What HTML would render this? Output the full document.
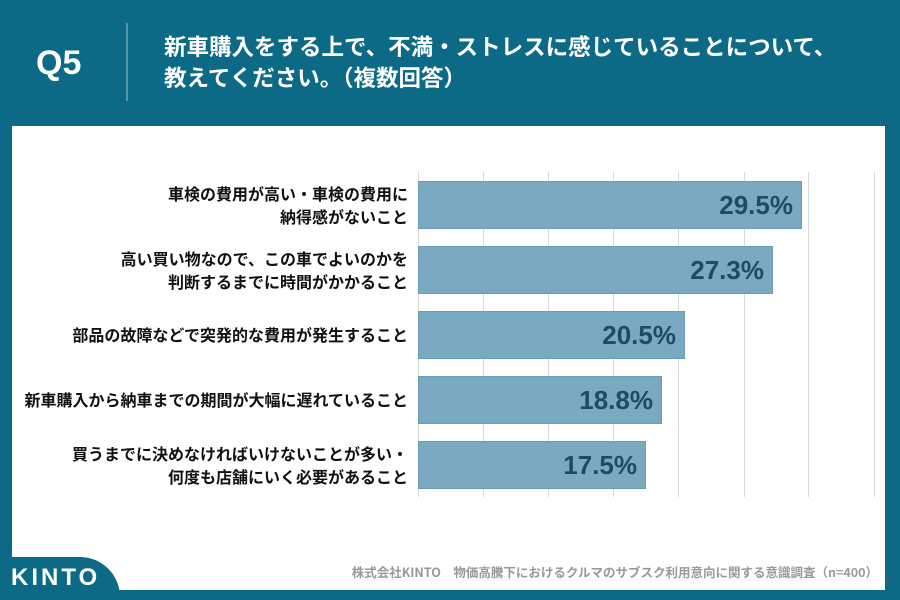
<!DOCTYPE html>
<html><head><meta charset="utf-8"><style>
body{margin:0;width:900px;height:600px;background:#0c6a86;position:relative;overflow:hidden;font-family:"Liberation Sans","Noto Sans CJK JP",sans-serif}
.panel{position:absolute;left:12px;top:126px;width:873px;height:464px;background:#fff}
.q{position:absolute;left:36px;top:44px;color:#fff;font-weight:bold;font-size:34px}
.div{position:absolute;left:126px;top:23px;width:2px;height:78px;background:#5a97ab}
.title{position:absolute;left:164px;top:31px;color:#fff;font-weight:bold;font-size:22.5px;line-height:31px;font-family:"Noto Sans CJK JP",sans-serif}
.grid{position:absolute;top:172px;height:325px;width:1px;background:#d9d9d9}
.bar{position:absolute;left:418px;height:48px;background:#7aaac2;border:1px solid #6a9cb6;box-sizing:border-box}
.val{position:absolute;right:8px;top:8px;font-weight:bold;font-size:26px;color:#1e4a68}
.lab{position:absolute;right:492px;width:400px;text-align:right;font-weight:bold;font-size:16px;line-height:23px;color:#111;font-family:"Noto Sans CJK JP",sans-serif}
.foot{position:absolute;right:22px;top:562px;color:#999;font-size:12.5px;font-weight:bold;font-family:"Noto Sans CJK JP",sans-serif}
.logo{position:absolute;left:0;top:557px;width:120px;height:43px;background:#0c6a86;border-top-right-radius:40px}
.logot{position:absolute;left:11px;top:564px;color:#fff;font-weight:bold;font-size:24px;letter-spacing:3px}
</style></head><body>
<div class="q">Q5</div><div class="div"></div>
<div class="title">新車購入をする上で、不満・ストレスに感じていることについて、<br>教えてください。（複数回答）</div>
<div class="panel"></div>
<div class="grid" style="left:418px"></div><div class="grid" style="left:483px"></div><div class="grid" style="left:548px"></div><div class="grid" style="left:613px"></div><div class="grid" style="left:678px"></div><div class="grid" style="left:744px"></div><div class="grid" style="left:808px"></div><div class="grid" style="left:874px"></div>
<div class="bar" style="top:181px;width:384px"><span class="val">29.5%</span></div>
<div class="bar" style="top:246px;width:355px"><span class="val">27.3%</span></div>
<div class="bar" style="top:311px;width:267px"><span class="val">20.5%</span></div>
<div class="bar" style="top:376px;width:244px"><span class="val">18.8%</span></div>
<div class="bar" style="top:441px;width:228px"><span class="val">17.5%</span></div>
<div class="lab" style="top:182px">車検の費用が高い・車検の費用に<br>納得感がないこと</div>
<div class="lab" style="top:247px">高い買い物なので、この車でよいのかを<br>判断するまでに時間がかかること</div>
<div class="lab" style="top:323px">部品の故障などで突発的な費用が発生すること</div>
<div class="lab" style="top:388px">新車購入から納車までの期間が大幅に遅れていること</div>
<div class="lab" style="top:442px">買うまでに決めなければいけないことが多い・<br>何度も店舗にいく必要があること</div>
<div class="foot">株式会社KINTO　物価高騰下におけるクルマのサブスク利用意向に関する意識調査（n=400）</div>
<div class="logo"></div><div class="logot">KINTO</div>
</body></html>
